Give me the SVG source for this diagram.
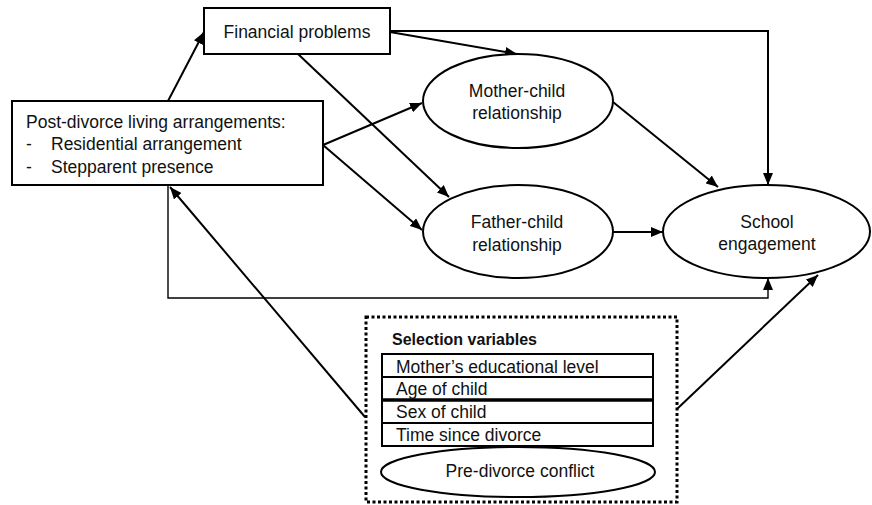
<svg xmlns="http://www.w3.org/2000/svg" width="872" height="505" viewBox="0 0 872 505">
<defs>
<marker id="ah" markerUnits="userSpaceOnUse" markerWidth="12" markerHeight="10" refX="12" refY="5" orient="auto">
<path d="M0,0 L12,5 L0,10 z" fill="#000"/>
</marker>
<style>
.box{fill:#fff;stroke:#000;stroke-width:2}
.t{font-family:"Liberation Sans",Arial,sans-serif;font-size:17.5px;fill:#111}
.c{text-anchor:middle}
.b{font-weight:bold;font-size:16px}
.con{fill:none;stroke:#000;stroke-width:2}
.thin{stroke-width:1.4}
</style>
</defs>
<rect width="872" height="505" fill="#fff"/>
<g id="connectors">
<path class="con" d="M168,101 L204,32" marker-end="url(#ah)"/>
<path class="con" d="M390,32 L517,54" marker-end="url(#ah)"/>
<path class="con" d="M390,31 H768 V185" marker-end="url(#ah)"/>
<path class="con" d="M298,54 L449,197" marker-end="url(#ah)"/>
<path class="con" d="M323,145 L422,103" marker-end="url(#ah)"/>
<path class="con" d="M323,145 L422,230" marker-end="url(#ah)"/>
<path class="con" d="M613,102 L718,187" marker-end="url(#ah)"/>
<path class="con" d="M613,232 L663,232" marker-end="url(#ah)"/>
<path class="con thin" d="M168,185 V298 H768 V278" marker-end="url(#ah)"/>
<path class="con" d="M365,417 L170,187" marker-end="url(#ah)"/>
<path class="con" d="M677,409 L818,275" marker-end="url(#ah)"/>
</g>
<g id="financial">
<rect class="box" x="204" y="8" width="186" height="46"/>
<text class="t c" x="297" y="38">Financial problems</text>
</g>
<g id="postdivorce">
<rect class="box" x="12" y="101" width="311" height="84"/>
<text class="t" x="26" y="128">Post-divorce living arrangements:</text>
<text class="t" x="26" y="150">-</text>
<text class="t" x="51" y="150">Residential arrangement</text>
<text class="t" x="26" y="173">-</text>
<text class="t" x="51" y="173">Stepparent presence</text>
</g>
<g id="mother">
<ellipse class="box" cx="518" cy="101" rx="95" ry="47"/>
<text class="t c" x="517" y="97">Mother-child</text>
<text class="t c" x="517" y="119">relationship</text>
</g>
<g id="father">
<ellipse class="box" cx="518" cy="231.5" rx="95" ry="46.5"/>
<text class="t c" x="517" y="228">Father-child</text>
<text class="t c" x="517" y="251">relationship</text>
</g>
<g id="school">
<ellipse class="box" cx="766.5" cy="231.5" rx="103.5" ry="46.5"/>
<text class="t c" x="767" y="228">School</text>
<text class="t c" x="767" y="250">engagement</text>
</g>
<g id="selection">
<rect x="366" y="317" width="311" height="185" fill="#fff" stroke="#000" stroke-width="3" stroke-dasharray="3 2.5"/>
<text class="t b" x="392" y="345">Selection variables</text>
<rect class="box" x="382" y="354" width="271" height="92"/>
<line x1="382" y1="377" x2="653" y2="377" stroke="#000" stroke-width="2"/>
<line x1="382" y1="400" x2="653" y2="400" stroke="#000" stroke-width="3.5"/>
<line x1="382" y1="423" x2="653" y2="423" stroke="#000" stroke-width="2"/>
<text class="t" x="396" y="373">Mother’s educational level</text>
<text class="t" x="396" y="395">Age of child</text>
<text class="t" x="396" y="418">Sex of child</text>
<text class="t" x="396" y="441">Time since divorce</text>
<ellipse class="box" cx="518" cy="472" rx="137" ry="25"/>
<text class="t c" x="520" y="477">Pre-divorce conflict</text>
</g>
</svg>
